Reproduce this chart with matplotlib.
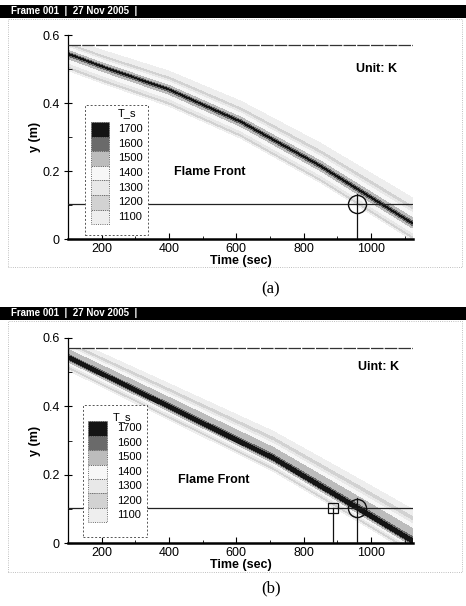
import numpy as np
import matplotlib
matplotlib.use("Agg")
import matplotlib.pyplot as plt
from matplotlib.patches import Rectangle
from matplotlib.ticker import MultipleLocator

# ---------------- data ----------------
levels = [1100, 1200, 1300, 1400, 1500, 1600, 1700]
level_labels = ["1700", "1600", "1500", "1400", "1300", "1200", "1100"]
band_colors = ["#eeeeee", "#d2d2d2", "#e8e8e8", "#f7f7f7", "#bcbcbc", "#6a6a6a", "#141414"]

x_ticks = [200, 400, 600, 800, 1000]
y_ticks = [0, 0.2, 0.4, 0.6]

# flame front (core) positions
front_a_time = [100, 206, 400, 614, 850, 1122]
front_a_y = [0.545, 0.506, 0.440, 0.345, 0.215, 0.047]
front_b_time = [100, 400, 710, 965, 1125]
front_b_y = [0.545, 0.400, 0.249, 0.100, 0.005]

# temperature profile across the front (offset in m above core)
prof_a_offset = [-0.07, -0.05, -0.042, -0.03, -0.018, -0.009, -0.003, 0.0, 0.003, 0.009, 0.02, 0.034, 0.045, 0.07, 0.1]
prof_a_temp = [1000, 1090, 1220, 1380, 1460, 1560, 1660, 1760, 1660, 1560, 1470, 1380, 1220, 1120, 1000]
prof_b_offset = [-0.06, -0.04, -0.03, -0.018, -0.010, -0.006, 0.0, 0.006, 0.012, 0.035, 0.05, 0.065, 0.09, 0.12]
prof_b_temp = [1000, 1090, 1250, 1450, 1560, 1710, 1780, 1710, 1600, 1510, 1400, 1230, 1110, 1000]
# widening of the upper halo with time
halo_time = [100, 1125]
halo_scale = [0.6, 1.0]

probe_level = 0.103
domain_top = 0.57
circle_a_time = 958
circle_b_time = 958
square_b_time = 887

# ---------------- figure ----------------
W, H = 466, 606
fig = plt.figure(figsize=(W / 100, H / 100), dpi=100)
plt.rcParams["font.family"] = ["Liberation Sans", "DejaVu Sans"]


def fx(px):
    return px / W


def fy(py):
    return 1 - py / H


def field(front_t, front_y, offs, temps):
    t = np.linspace(100, 1125, 700)
    y = np.linspace(0, domain_top, 600)
    T, Y = np.meshgrid(t, y)
    core = np.interp(T, front_t, front_y)
    d = Y - core
    s = np.interp(T, halo_time, halo_scale)
    d = np.where(d > 0, d / s, d)
    Z = np.interp(d, offs, temps)
    return T, Y, Z


def legend_box(ax, box, sw_x, sw_top, sw_h, lab_x, title_xy):
    ax.add_patch(Rectangle((box[0], box[1]), box[2] - box[0], box[3] - box[1],
                           transform=ax.transAxes, facecolor="white", edgecolor="#555",
                           lw=0.7, ls=(0, (2, 2)), zorder=10))
    ax.text(title_xy[0], title_xy[1], "T_s", transform=ax.transAxes, ha="center",
            va="center", fontsize=8, zorder=11)
    cols = band_colors[::-1]
    for i, lab in enumerate(level_labels):
        top = sw_top - i * sw_h
        ax.add_patch(Rectangle((sw_x[0], top - sw_h), sw_x[1] - sw_x[0], sw_h,
                               transform=ax.transAxes, facecolor=cols[i],
                               edgecolor="#444", lw=0.6, ls=":", zorder=11))
        ax.text(lab_x, top - sw_h / 2, lab, transform=ax.transAxes, ha="left",
                va="center", fontsize=8, zorder=11)


def panel(top_px, bot_px, hdr_top, frame_bot, front_t, front_y, offs, temps,
          unit_text, unit_xy, ff_xy, leg, label, label_y, square_t=None, circle_t=958):
    # header bar
    fig.patches.append(Rectangle((0, fy(hdr_top + 13)), 1, 13 / H, transform=fig.transFigure,
                                 facecolor="black", edgecolor="none"))
    fig.text(fx(11), fy(hdr_top + 6.5), "Frame 001  |  27 Nov 2005  |", color="white",
             fontsize=7, fontweight="bold", va="center", ha="left")
    # dotted frame
    fig.patches.append(Rectangle((fx(8), fy(frame_bot)), fx(462 - 8), (frame_bot - hdr_top - 14) / H,
                                 transform=fig.transFigure, fill=False, edgecolor="#aaa",
                                 lw=0.6, ls=":"))
    ax = fig.add_axes([fx(68), fy(bot_px), fx(345), (bot_px - top_px) / H])
    T, Y, Z = field(front_t, front_y, offs, temps)
    ax.contourf(T, Y, Z, levels=levels + [2000], colors=band_colors, zorder=1)
    ax.set_xlim(100, 1125)
    ax.set_ylim(0, 0.6)
    ax.set_xticks(x_ticks)
    ax.set_yticks(y_ticks)
    ax.set_yticklabels(["0", "0.2", "0.4", "0.6"])
    ax.xaxis.set_minor_locator(MultipleLocator(100))
    ax.yaxis.set_minor_locator(MultipleLocator(0.1))
    ax.tick_params(axis="x", direction="in", length=4, width=0.8, labelsize=9, pad=3)
    ax.tick_params(axis="x", which="minor", direction="in", length=2, width=0.6)
    ax.tick_params(axis="y", direction="inout", length=6, width=0.8, labelsize=9, pad=3)
    ax.tick_params(axis="y", which="minor", direction="in", length=3, width=0.6)
    for s in ("top", "right"):
        ax.spines[s].set_visible(False)
    ax.spines["bottom"].set_linewidth(1.8)
    ax.spines["left"].set_linewidth(0.9)
    ax.axhline(domain_top, color="#333", lw=0.9, ls=(0, (10, 1)), zorder=3)
    ax.axhline(probe_level, color="#222", lw=0.9, zorder=3)
    # probes
    ax.plot([circle_t, circle_t], [0, probe_level + 0.028], color="#111", lw=0.9, zorder=4)
    ax.plot([circle_t], [probe_level], marker="o", ms=13, mfc="none", mec="#111", mew=1.0, zorder=5)
    if square_t is not None:
        ax.plot([square_t, square_t], [0, probe_level], color="#111", lw=0.9, zorder=4)
        ax.plot([square_t], [probe_level], marker="s", ms=7, mfc="none", mec="#111", mew=0.9, zorder=5)
    ax.set_xlabel("Time (sec)", fontsize=9, fontweight="bold")
    ax.xaxis.label.set_va("center")
    ax.xaxis.set_label_coords(0.5, -0.108)
    ax.set_ylabel("y (m)", fontsize=9, fontweight="bold")
    ax.yaxis.label.set_va("center")
    ax.yaxis.set_label_coords(-0.096, 0.5)
    ax.text(unit_xy[0], unit_xy[1], unit_text, transform=ax.transAxes, fontsize=9,
            fontweight="bold", ha="center", va="center", zorder=6)
    ax.text(ff_xy[0], ff_xy[1], "Flame Front", transform=ax.transAxes, fontsize=9,
            fontweight="bold", ha="center", va="center", zorder=6)
    legend_box(ax, *leg)
    fig.text(fx(271), fy(label_y), label, fontsize=12, family="Liberation Serif",
             ha="center", va="center")
    return ax


panel(35, 239, 5, 267, front_a_time, front_a_y, prof_a_offset, prof_a_temp,
      "Unit: K", (0.893, 0.833), (0.412, 0.328),
      ((0.049, 0.02, 0.232, 0.657), (0.067, 0.119), 0.574, 0.0716, 0.145, (0.171, 0.618)),
      "(a)", 289, circle_t=circle_a_time)

panel(338, 543, 307, 572, front_b_time, front_b_y, prof_b_offset, prof_b_temp,
      "Uint: K", (0.901, 0.859), (0.423, 0.307),
      ((0.043, 0.029, 0.229, 0.673), (0.058, 0.113), 0.595, 0.0707, 0.142, (0.157, 0.615)),
      "(b)", 588, square_t=square_b_time, circle_t=circle_b_time)

fig.savefig("out.png", dpi=100)
